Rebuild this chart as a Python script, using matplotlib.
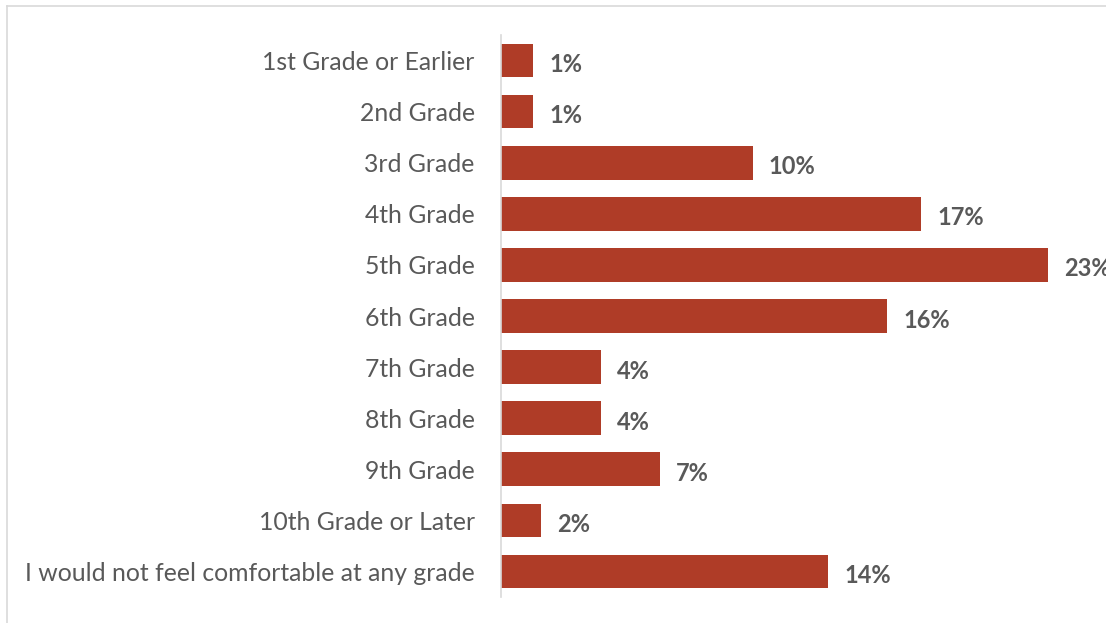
import matplotlib
matplotlib.use("Agg")
import matplotlib.pyplot as plt
from matplotlib.lines import Line2D

# survey answers, share of respondents (%)
grades = ["1st Grade or Earlier", "2nd Grade", "3rd Grade", "4th Grade",
          "5th Grade", "6th Grade", "7th Grade", "8th Grade", "9th Grade",
          "10th Grade or Later", "I would not feel comfortable at any grade"]
shares = [1.36, 1.36, 10.46, 17.46, 22.72, 16.04, 4.16, 4.16, 6.62, 1.70, 13.60]

bar_color = "#AF3C27"
text_gray = "#595959"
border_gray = "#D9D9D9"

plt.rcParams['font.family'] = ['Lato', 'DejaVu Sans']

fig = plt.figure(figsize=(11.06, 6.23), dpi=100)
ax = fig.add_axes([500.5 / 1106, 26 / 623, 1 - 500.5 / 1106, 562 / 623])

ypos = list(range(len(grades)))
ax.barh(ypos, shares, height=0.66, color=bar_color)

for y, v in zip(ypos, shares):
    ax.annotate(f"{v:.0f}%", (v, y), xytext=(11.5, -1.5), textcoords="offset points",
                va="center_baseline", ha="left", fontsize=17, fontweight="bold",
                color=text_gray, annotation_clip=False)

ax.set_yticks(ypos)
ax.set_yticklabels(grades, fontsize=17.8, color=text_gray, va="center_baseline")
ax.tick_params(axis="y", length=0, pad=18.5)
ax.set_ylim(len(grades) - 0.5, -0.5)
ax.set_xlim(0, 605.5 / 24.1)
ax.set_xticks([])

for side in ["top", "right", "bottom"]:
    ax.spines[side].set_visible(False)
ax.spines["left"].set_color(border_gray)
ax.spines["left"].set_linewidth(1.2)

# chart frame (cropped: only left and top edges show)
fig.add_artist(Line2D([7 / 1106, 7 / 1106], [0, 1 - 6 / 623], color=border_gray, lw=1.2))
fig.add_artist(Line2D([7 / 1106, 1], [1 - 6 / 623, 1 - 6 / 623], color=border_gray, lw=1.2))

fig.savefig("out.png", dpi=100)
